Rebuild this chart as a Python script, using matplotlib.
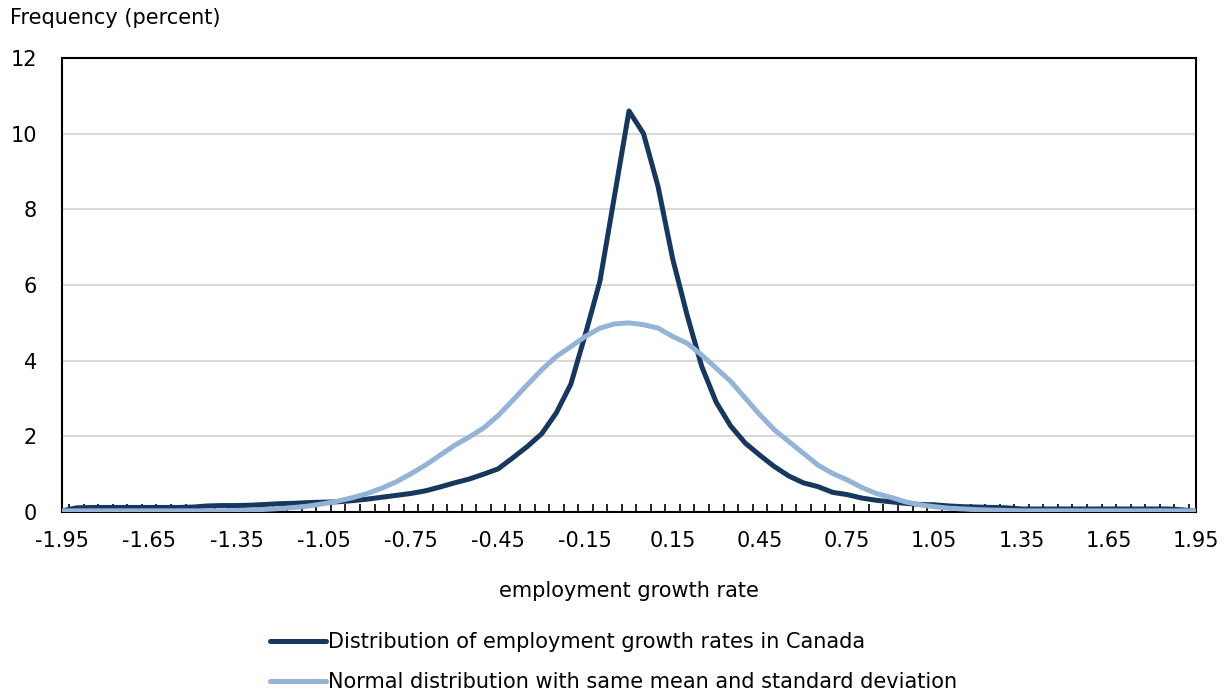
import numpy as np
import matplotlib
matplotlib.use("Agg")
import matplotlib.pyplot as plt
from matplotlib.ticker import FixedLocator

# categories: employment growth rate, step 0.05
growth_rate = np.round(np.arange(-1.95, 1.951, 0.05), 2)

canada = [
    0.03, 0.11, 0.12, 0.12, 0.12, 0.12, 0.12, 0.12, 0.12, 0.13,   # -1.95 .. -1.50
    0.16, 0.17, 0.17, 0.18, 0.20, 0.22, 0.23, 0.25, 0.26, 0.27,   # -1.45 .. -1.00
    0.30, 0.34, 0.39, 0.44, 0.49, 0.56, 0.66, 0.77, 0.87, 1.00,   # -0.95 .. -0.50
    1.14, 1.43, 1.73, 2.07, 2.62, 3.38, 4.70, 6.10, 8.35, 10.6,   # -0.45 .. 0.00
    10.0, 8.60, 6.70, 5.20, 3.85, 2.90, 2.27, 1.82, 1.50, 1.20,   # 0.05 .. 0.50
    0.95, 0.77, 0.67, 0.52, 0.46, 0.37, 0.31, 0.27, 0.23, 0.20,   # 0.55 .. 1.00
    0.19, 0.16, 0.14, 0.13, 0.12, 0.11, 0.08, 0.08, 0.08, 0.08,   # 1.05 .. 1.50
    0.08, 0.08, 0.08, 0.08, 0.08, 0.08, 0.08, 0.06, 0.02,         # 1.55 .. 1.95
]

normal = [
    0.03, 0.03, 0.03, 0.03, 0.03, 0.03, 0.03, 0.03, 0.03, 0.03,   # -1.95 .. -1.50
    0.03, 0.03, 0.04, 0.05, 0.07, 0.09, 0.12, 0.16, 0.22, 0.29,   # -1.45 .. -1.00
    0.38, 0.49, 0.63, 0.80, 1.01, 1.24, 1.50, 1.76, 1.98, 2.22,   # -0.95 .. -0.50
    2.55, 2.95, 3.36, 3.76, 4.11, 4.37, 4.64, 4.86, 4.97, 5.00,   # -0.45 .. 0.00
    4.95, 4.86, 4.64, 4.46, 4.15, 3.80, 3.45, 3.01, 2.57, 2.17,   # 0.05 .. 0.50
    1.86, 1.55, 1.24, 1.02, 0.85, 0.65, 0.49, 0.39, 0.27, 0.19,   # 0.55 .. 1.00
    0.14, 0.10, 0.08, 0.06, 0.05, 0.04, 0.03, 0.03, 0.03, 0.03,   # 1.05 .. 1.50
    0.03, 0.03, 0.03, 0.03, 0.03, 0.03, 0.03, 0.03, 0.03,         # 1.55 .. 1.95
]

labels = ["Distribution of employment growth rates in Canada",
          "Normal distribution with same mean and standard deviation"]
dark = "#17375E"
light = "#95B3D7"
fs = 15

plt.rcParams['font.family'] = ['DejaVu Sans']
fig = plt.figure(figsize=(12.24, 6.93), dpi=100)
ax = fig.add_axes([62 / 1224, 1 - 512 / 693, (1196 - 62) / 1224, (512 - 58) / 693])

ax.plot(growth_rate, canada, color=dark, lw=3.6, solid_capstyle='round',
        label=labels[0], zorder=3)
ax.plot(growth_rate, normal, color=light, lw=3.6, solid_capstyle='round',
        label=labels[1], zorder=3)

ax.set_xlim(-1.95, 1.95)
ax.set_ylim(0, 12)
ax.set_yticks(np.arange(0, 13, 2))
ax.set_xticks(growth_rate[::6])
ax.set_xticklabels([f"{v:.2f}" for v in growth_rate[::6]])
ax.xaxis.set_minor_locator(FixedLocator(growth_rate[:-1] + 0.025))
ax.tick_params(axis='x', which='major', length=0, pad=14, labelsize=fs)
ax.tick_params(axis='x', which='minor', direction='in', length=6, width=1.2, color='black')
ax.tick_params(axis='y', length=0, pad=18, labelsize=fs)

ax.grid(axis='y', color='#D9D9D9', lw=1.5, zorder=0)
for s in ax.spines.values():
    s.set_color('black')
    s.set_linewidth(1.5)
ax.set_axisbelow(True)

ax.set_xlabel("employment growth rate", fontsize=fs, labelpad=21)
fig.text(10 / 1224, 1 - 18 / 693, "Frequency (percent)", fontsize=fs,
         ha='left', va='center')

fig.legend(loc='upper left', bbox_to_anchor=(270 / 1224, 1 - 632 / 693),
           frameon=False, fontsize=fs, handlelength=2.7, handletextpad=0.1,
           labelspacing=0.95, borderpad=0, borderaxespad=0)

fig.savefig("out.png", dpi=100)
